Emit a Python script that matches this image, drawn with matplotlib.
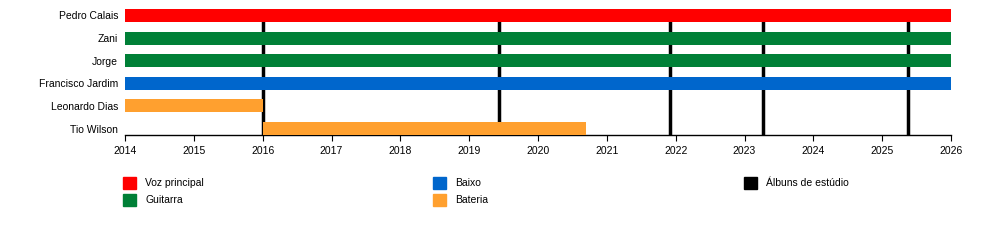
import matplotlib.pyplot as plt
from matplotlib.patches import Rectangle

plt.rcParams['font.family'] = ['Liberation Sans', 'DejaVu Sans']

members = ['Pedro Calais', 'Zani', 'Jorge', 'Francisco Jardim', 'Leonardo Dias', 'Tio Wilson']
starts = [2014, 2014, 2014, 2014, 2014, 2016]
ends = [2026, 2026, 2026, 2026, 2016, 2020.7]
roles = ['Voz principal', 'Guitarra', 'Guitarra', 'Baixo', 'Bateria', 'Bateria']
albums = [2016.0, 2019.44, 2021.92, 2023.27, 2025.38]

role_colors = {
    'Voz principal': '#ff0000',
    'Guitarra': '#008037',
    'Baixo': '#0066cc',
    'Bateria': '#ffa02f',
}
album_color = '#000000'

fig = plt.figure(figsize=(10, 2.44), dpi=100)
ax = fig.add_axes([0.125, 1 - 135 / 244, 0.826, 126 / 244])

ypos = list(range(len(members)))
bar_h = 0.575
for y, s, e, r in zip(ypos, starts, ends, roles):
    ax.barh(y, e - s, left=s, height=bar_h, color=role_colors[r], zorder=3)

ax.vlines(albums, -0.5, len(members), color=album_color, linewidth=2.5, zorder=2)

ax.set_xlim(2014, 2026)
ax.set_ylim(len(members) - 1 + bar_h / 2, -bar_h / 2)
ax.set_xticks(range(2014, 2027))
ax.set_yticks(ypos)
ax.set_yticklabels(members, fontsize=7.5)
ax.tick_params(axis='y', length=0, pad=5)
ax.tick_params(axis='x', length=4, width=0.8, labelsize=7.5, pad=4, direction='out')
for side in ['top', 'right', 'left']:
    ax.spines[side].set_visible(False)
ax.spines['bottom'].set_linewidth(1)

# legend
legend_items = [
    ('Voz principal', role_colors['Voz principal'], 123, 145, 183),
    ('Guitarra', role_colors['Guitarra'], 123, 145, 200),
    ('Baixo', role_colors['Baixo'], 433, 455, 183),
    ('Bateria', role_colors['Bateria'], 433, 455, 200),
    ('Álbuns de estúdio', album_color, 744, 766, 183),
]
W, H = 1000, 244
for label, col, sx, tx, cy in legend_items:
    fig.add_artist(Rectangle((sx / W, 1 - (cy + 6) / H), 13 / W, 12 / H,
                             transform=fig.transFigure, color=col))
    fig.text(tx / W, 1 - cy / H, label, fontsize=7.5, va='center', ha='left')

fig.savefig('out.png', dpi=100)
